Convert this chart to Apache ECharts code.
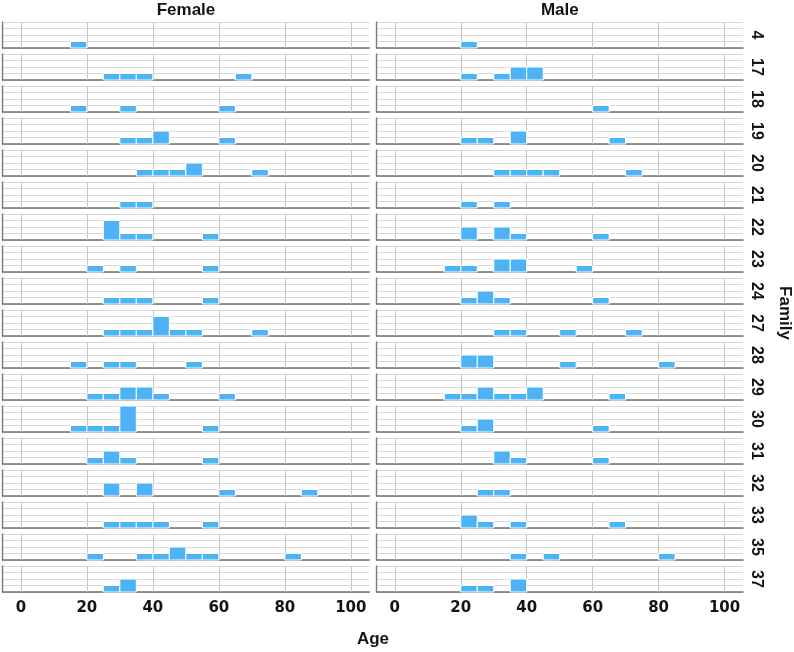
<!DOCTYPE html>
<html>
<head>
<meta charset="utf-8">
<script src="https://cdn.jsdelivr.net/npm/echarts@6/dist/echarts.min.js"></script>
<style>
html,body{margin:0;padding:0;background:#fff;}
#chart{width:794px;height:652px;}
</style>
</head>
<body>
<div id="chart"></div>
<script>
// ---- data ----
const families = ['4','17','18','19','20','21','22','23','24','27','28','29','30','31','32','33','35','37'];
const sexes = ['Female','Male'];
const binStarts = [15,20,25,30,35,40,45,50,55,60,65,70,75,80,85];
const binWidth = 5;
const xTicks = [0,20,40,60,80,100];
// counts per family (rows) per age bin (columns, matching binStarts)
const femaleCounts = [
  [1,0,0,0,0,0,0,0,0,0,0,0,0,0,0], // 4
  [0,0,1,1,1,0,0,0,0,0,1,0,0,0,0], // 17
  [1,0,0,1,0,0,0,0,0,1,0,0,0,0,0], // 18
  [0,0,0,1,1,2,0,0,0,1,0,0,0,0,0], // 19
  [0,0,0,0,1,1,1,2,0,0,0,1,0,0,0], // 20
  [0,0,0,1,1,0,0,0,0,0,0,0,0,0,0], // 21
  [0,0,3,1,1,0,0,0,1,0,0,0,0,0,0], // 22
  [0,1,0,1,0,0,0,0,1,0,0,0,0,0,0], // 23
  [0,0,1,1,1,0,0,0,1,0,0,0,0,0,0], // 24
  [0,0,1,1,1,3,1,1,0,0,0,1,0,0,0], // 27
  [1,0,1,1,0,0,0,1,0,0,0,0,0,0,0], // 28
  [0,1,1,2,2,1,0,0,0,1,0,0,0,0,0], // 29
  [1,1,1,4,0,0,0,0,1,0,0,0,0,0,0], // 30
  [0,1,2,1,0,0,0,0,1,0,0,0,0,0,0], // 31
  [0,0,2,0,2,0,0,0,0,1,0,0,0,0,1], // 32
  [0,0,1,1,1,1,0,0,1,0,0,0,0,0,0], // 33
  [0,1,0,0,1,1,2,1,1,0,0,0,0,1,0], // 35
  [0,0,1,2,0,0,0,0,0,0,0,0,0,0,0]  // 37
];
const maleCounts = [
  [0,1,0,0,0,0,0,0,0,0,0,0,0,0,0], // 4
  [0,1,0,1,2,2,0,0,0,0,0,0,0,0,0], // 17
  [0,0,0,0,0,0,0,0,0,1,0,0,0,0,0], // 18
  [0,1,1,0,2,0,0,0,0,0,1,0,0,0,0], // 19
  [0,0,0,1,1,1,1,0,0,0,0,1,0,0,0], // 20
  [0,1,0,1,0,0,0,0,0,0,0,0,0,0,0], // 21
  [0,2,0,2,1,0,0,0,0,1,0,0,0,0,0], // 22
  [1,1,0,2,2,0,0,0,1,0,0,0,0,0,0], // 23
  [0,1,2,1,0,0,0,0,0,1,0,0,0,0,0], // 24
  [0,0,0,1,1,0,0,1,0,0,0,1,0,0,0], // 27
  [0,2,2,0,0,0,0,1,0,0,0,0,0,1,0], // 28
  [1,1,2,1,1,2,0,0,0,0,1,0,0,0,0], // 29
  [0,1,2,0,0,0,0,0,0,1,0,0,0,0,0], // 30
  [0,0,0,2,1,0,0,0,0,1,0,0,0,0,0], // 31
  [0,0,1,1,0,0,0,0,0,0,0,0,0,0,0], // 32
  [0,2,1,0,1,0,0,0,0,0,1,0,0,0,0], // 33
  [0,0,0,0,1,0,1,0,0,0,0,0,0,1,0], // 35
  [0,1,1,0,2,0,0,0,0,0,0,0,0,0,0]  // 37
];

// ---- layout ----
const panelTop = 22, panelH = 26, panelPitch = 32;
const colLeft = [2.7, 376.7], colWidth = [366.6, 366.3];
const xMin = -5.5, xMax = 105.6, yMax = 4;
const barColor = '#4DB3F6';
const textColor = '#141414';

const chart = echarts.init(document.getElementById('chart'), null, {renderer:'canvas'});

const grids = [], xAxes = [], yAxes = [], series = [], graphics = [];
const countsBySex = [femaleCounts, maleCounts];

function renderItem(params, api) {
  const x0 = api.value(0), x1 = api.value(1), c = api.value(2);
  const p0 = api.coord([x0, c]);
  const p1 = api.coord([x1, 0]);
  return {
    type: 'rect',
    shape: {x: p0[0], y: p0[1], width: p1[0] - p0[0], height: p1[1] - p0[1]},
    style: {fill: barColor, stroke: '#ffffff', lineWidth: 1}
  };
}

families.forEach((fam, r) => {
  sexes.forEach((sex, c) => {
    const idx = grids.length;
    const isBottom = r === families.length - 1;
    grids.push({left: colLeft[c], width: colWidth[c], top: panelTop + r * panelPitch, height: panelH});
    xAxes.push({
      type: 'value', gridIndex: idx, min: xMin, max: xMax, splitNumber: 5,
      axisLine: {show: true, onZero: false, lineStyle: {color: '#707070', width: 1.6}},
      axisTick: {show: false},
      splitLine: {show: false},
      axisLabel: {
        show: isBottom, margin: 9, color: textColor,
        fontFamily: 'DejaVu Sans', fontWeight: 'bold', fontSize: 15,
        showMinLabel: false, showMaxLabel: false,
        formatter: v => (xTicks.indexOf(v) >= 0 ? String(v) : '')
      }
    });
    yAxes.push({
      type: 'value', gridIndex: idx, min: 0, max: yMax, interval: 1,
      axisLine: {show: true, onZero: false, lineStyle: {color: '#7a7a7a', width: 1.4}},
      axisTick: {show: false},
      axisLabel: {show: false},
      splitLine: {show: true, lineStyle: {color: '#dadada', width: 1}}
    });
    const data = [];
    countsBySex[c][r].forEach((n, b) => {
      if (n > 0) data.push([binStarts[b], binStarts[b] + binWidth, n]);
    });
    series.push({
      type: 'custom', xAxisIndex: idx, yAxisIndex: idx,
      renderItem: renderItem,
      encode: {x: [0, 1], y: 2},
      data: data, z: 3, silent: true,
      markLine: {
        silent: true, symbol: ['none', 'none'], z: 1, animation: false,
        label: {show: false},
        lineStyle: {color: '#c6c6c6', width: 1, type: 'solid'},
        emphasis: {disabled: true},
        data: xTicks.map(v => ({xAxis: v}))
      }
    });
  });
  // family label on the right side
  graphics.push({
    type: 'text', x: 756, y: panelTop + r * panelPitch + panelH / 2,
    rotation: -Math.PI / 2,
    style: {text: fam, fill: textColor, font: 'bold 16px "Liberation Sans", Arial, sans-serif',
            align: 'center', verticalAlign: 'middle'}
  });
});

// column titles
sexes.forEach((sex, c) => {
  graphics.push({
    type: 'text', x: colLeft[c] + colWidth[c] / 2, y: 10,
    style: {text: sex, fill: textColor, font: 'bold 17px "Liberation Sans", Arial, sans-serif',
            align: 'center', verticalAlign: 'middle'}
  });
});
// axis titles
graphics.push({
  type: 'text', x: 373, y: 639,
  style: {text: 'Age', fill: textColor, font: 'bold 17px "Liberation Sans", Arial, sans-serif',
          align: 'center', verticalAlign: 'middle'}
});
graphics.push({
  type: 'text', x: 785, y: 313, rotation: -Math.PI / 2,
  style: {text: 'Family', fill: textColor, font: 'bold 17px "Liberation Sans", Arial, sans-serif',
          align: 'center', verticalAlign: 'middle'}
});

chart.setOption({
  animation: false,
  backgroundColor: '#ffffff',
  grid: grids,
  xAxis: xAxes,
  yAxis: yAxes,
  series: series,
  graphic: graphics
});
</script>
</body>
</html>
